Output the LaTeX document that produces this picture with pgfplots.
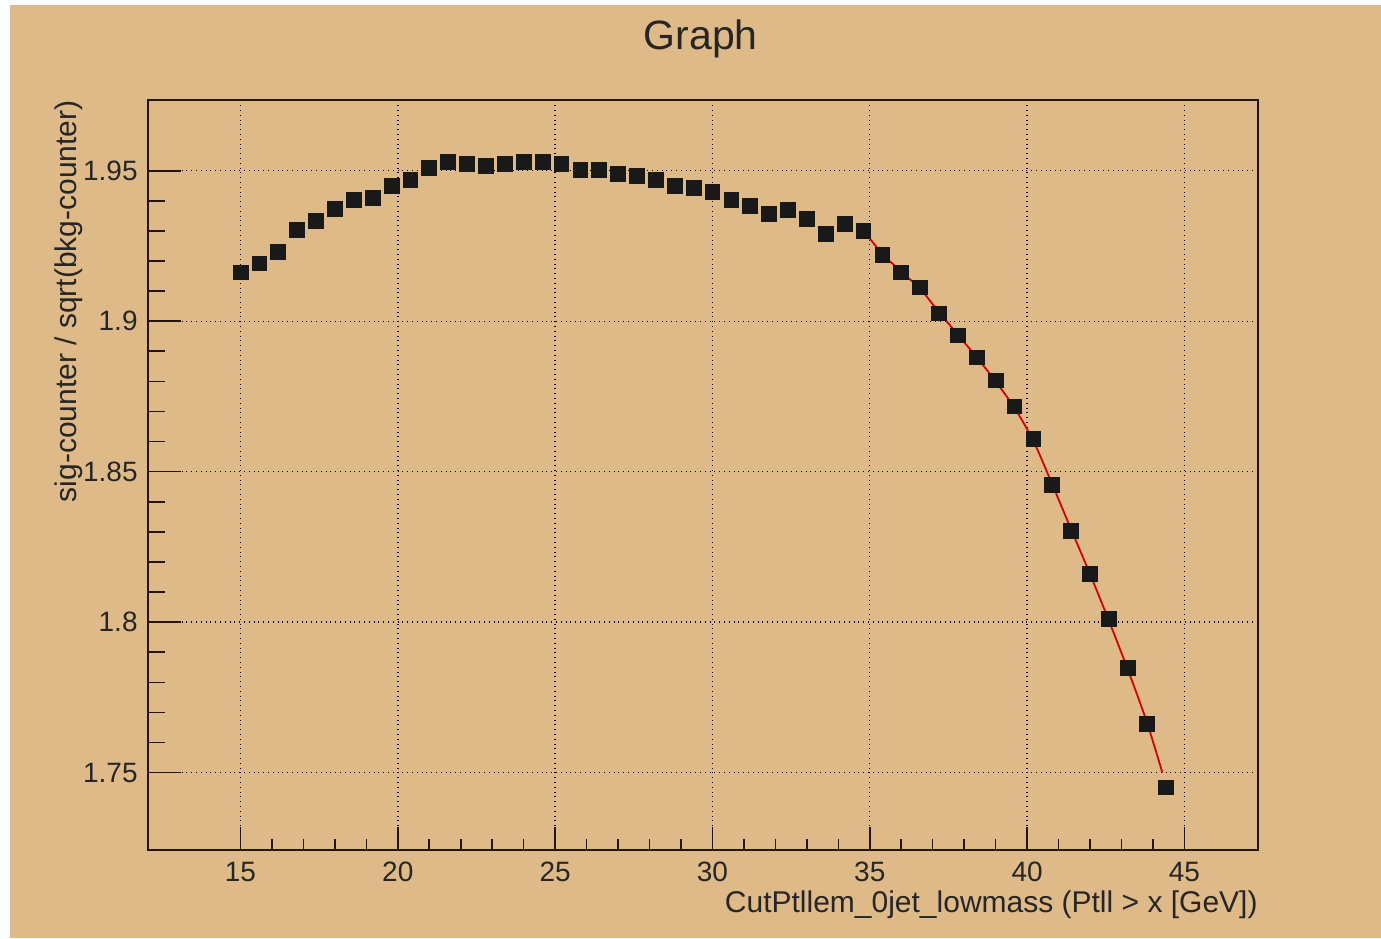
\documentclass[border=0pt]{standalone}
\usepackage{pgfplots}
\pgfplotsset{compat=1.18}
\usepackage{fontspec}
\setmainfont{Liberation Sans}
\definecolor{rootbg}{RGB}{222,186,136}
\definecolor{framec}{RGB}{40,20,15}
\begin{document}
\begin{tikzpicture}
\fill[white] (0,0) rectangle (690.5pt,469pt);
\fill[rootbg] (5pt,0) rectangle (690.5pt,466.5pt);
\path[use as bounding box] (0,0) rectangle (690.5pt,469pt);
\begin{axis}[
  at={(74pt,44pt)}, anchor=south west,
  width=555pt, height=375pt, scale only axis,
  xmin=12.06, xmax=47.34, ymin=1.7243, ymax=1.9735,
  xtick={15,20,25,30,35,40,45},
  xticklabels={15,20,25,30,35,40,45},
  ytick={1.75,1.8,1.85,1.9,1.95},
  yticklabels={1.75,1.8,1.85,1.9,1.95},
  minor x tick num=4, minor y tick num=4,
  tick align=inside, tick pos=left,
  major tick length=11.25pt, minor tick length=5.6pt,
  tick style={draw=framec, line width=0.8pt},
  ytick style={draw=none},
  grid=major,
  major grid style={draw=black, dotted, line width=0.7pt},
  axis line style={draw=framec, line width=0.9pt},
  /pgf/number format/assume math mode=true,
  ticklabel style={font=\fontsize{14}{14}\selectfont, text=black!85},
  xticklabel style={anchor=north, inner sep=0pt, yshift=-6pt},
  yticklabel style={anchor=east, inner sep=0pt, xshift=-5pt},
  xlabel={CutPtllem\_0jet\_lowmass (Ptll > x [GeV])},
  xlabel style={at={(axis description cs:1,-0.0827)}, anchor=base east, inner sep=0pt, font=\fontsize{15}{15}\selectfont, text=black!85},
  ylabel={sig-counter / sqrt(bkg-counter)},
  ylabel style={at={(axis description cs:-0.064,1)}, anchor=base east, inner sep=0pt, font=\fontsize{15}{15}\selectfont, text=black!85},
  title={Graph},
  title style={at={(axis description cs:0.498,1.0507)}, anchor=base, inner sep=0pt, font=\fontsize{20.5}{20.5}\selectfont, text=black!85},
  clip=false,
]
\addplot[red!85!black, line width=0.9pt, smooth, no marks] coordinates {
(35.0,1.9275) (35.4,1.9224) (36.0,1.9164) (36.6,1.9108) (37.2,1.9030)
(37.8,1.8955) (38.4,1.8880) (39.0,1.8800) (39.6,1.8712) (40.2,1.8602)
(40.8,1.8458) (41.4,1.8308) (42.0,1.8160) (42.6,1.8005) (43.2,1.7843)
(43.8,1.7670) (44.3,1.7500)
};
\addplot[only marks, mark=square*, mark size=3.7pt, mark options={fill=black!90, draw=black!90}] coordinates {
(15.0,1.9162) (15.6,1.9192) (16.2,1.9231) (16.8,1.9304) (17.4,1.9334)
(18.0,1.9374) (18.6,1.9404) (19.2,1.9410) (19.8,1.9450) (20.4,1.9470)
(21.0,1.9510) (21.6,1.9530) (22.2,1.9523) (22.8,1.9517) (23.4,1.9523)
(24.0,1.9530) (24.6,1.9530) (25.2,1.9523) (25.8,1.9503) (26.4,1.9503)
(27.0,1.9490) (27.6,1.9483) (28.2,1.9470) (28.8,1.9450) (29.4,1.9444)
(30.0,1.9430) (30.6,1.9404) (31.2,1.9384) (31.8,1.9357) (32.4,1.9371)
(33.0,1.9341) (33.6,1.9291) (34.2,1.9324) (34.8,1.9301) (35.4,1.9221)
(36.0,1.9162) (36.6,1.9112) (37.2,1.9026) (37.8,1.8953) (38.4,1.8880)
(39.0,1.8803) (39.6,1.8717) (40.2,1.8608) (40.8,1.8455) (41.4,1.8303)
(42.0,1.8160) (42.6,1.8011) (43.2,1.7848) (43.8,1.7663) (44.4,1.7451)
};
\end{axis}
\begin{axis}[
  at={(74pt,44pt)}, anchor=south west,
  width=555pt, height=375pt, scale only axis,
  xmin=12.06, xmax=47.34, ymin=1.7243, ymax=1.9735,
  xtick=\empty,
  ytick={1.75,1.8,1.85,1.9,1.95},
  yticklabels={},
  minor y tick num=4,
  tick align=inside, tick pos=left,
  major tick length=16.65pt, minor tick length=8.3pt,
  tick style={draw=framec, line width=0.8pt},
  axis line style={draw=none},
]
\end{axis}
\end{tikzpicture}
\end{document}
